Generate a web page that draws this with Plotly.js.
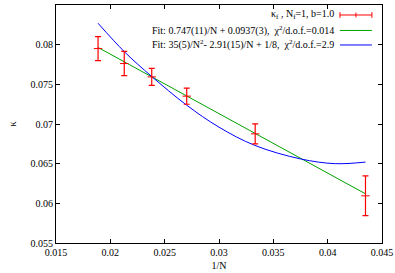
<!DOCTYPE html>
<html>
<head>
<meta charset="utf-8">
<script src="https://cdn.plot.ly/plotly-3.0.1.min.js"></script>
<style>html,body{margin:0;padding:0;background:#fff;}#chart{width:395px;height:273px;}</style>
</head>
<body>
<div id="chart"></div>
<script>
// Data points (1/N, kappa, error)
const invN = [0.01887, 0.02128, 0.02381, 0.02703, 0.03333, 0.04348];
const kappa = [0.07951, 0.07762, 0.07594, 0.07351, 0.06876, 0.06095];
const kappaErr = [0.00151, 0.00153, 0.00107, 0.00102, 0.00126, 0.00251];

// Linear fit line
const linX = [0.01887, 0.04348];
const linY = [0.07965, 0.06120];

// Quadratic fit curve
const quadX = [0.01887, 0.0213, 0.0238, 0.0270, 0.0300, 0.0333, 0.0375, 0.0407, 0.04348];
const quadY = [0.0827, 0.0791, 0.0760, 0.0724, 0.0696, 0.0673, 0.0656, 0.0650, 0.0652];

// Ticks
const xTicks = [0.015, 0.02, 0.025, 0.03, 0.035, 0.04, 0.045];
const xTickText = ['0.015', '0.02', '0.025', '0.03', '0.035', '0.04', '0.045'];
const yTicks = [0.055, 0.06, 0.065, 0.07, 0.075, 0.08, 0.085];
const yTickText = ['0.055', '0.06', '0.065', '0.07', '0.075', '0.08', '0.085'];

// Legend labels
const legendLabels = [
  'κ<sub>f</sub> , N<sub>f</sub>=1, b=1.0',
  'Fit: 0.747(11)/N + 0.0937(3),  χ<sup>2</sup>/d.o.f.=0.014',
  'Fit: 35(5)/N<sup>2</sup>- 2.91(15)/N + 1/8,  χ<sup>2</sup>/d.o.f.=2.9'
];
const colors = ['#ff0000', '#00a000', '#0000ff'];

const FONT = 'Liberation Serif';

const traces = [
  {
    x: linX, y: linY, mode: 'lines', type: 'scatter',
    line: {color: colors[1], width: 1}, hoverinfo: 'skip'
  },
  {
    x: quadX, y: quadY, mode: 'lines', type: 'scatter',
    line: {color: colors[2], width: 1, shape: 'spline', smoothing: 1}, hoverinfo: 'skip'
  },
  {
    x: invN, y: kappa, mode: 'markers', type: 'scatter',
    marker: {symbol: 'line-ew', size: 6, line: {color: colors[0], width: 1}, color: colors[0]},
    error_y: {type: 'data', array: kappaErr, visible: true, color: colors[0], thickness: 1.2, width: 3}
  }
];

const rowY = [0.958, 0.893, 0.832];
const annotations = legendLabels.map((t, i) => ({
  text: t, xref: 'paper', yref: 'paper', x: 0.859, y: rowY[i],
  xanchor: 'right', yanchor: 'middle', showarrow: false,
  font: {family: FONT, size: 10, color: '#000'}
}));

const sx0 = 0.871, sx1 = 0.969;
const shapes = [
  {type: 'line', xref: 'paper', yref: 'paper', x0: sx0, x1: sx1, y0: rowY[0], y1: rowY[0], line: {color: colors[0], width: 1}},
  {type: 'line', xref: 'paper', yref: 'paper', x0: sx0, x1: sx0, y0: rowY[0]-0.012, y1: rowY[0]+0.012, line: {color: colors[0], width: 1}},
  {type: 'line', xref: 'paper', yref: 'paper', x0: sx1, x1: sx1, y0: rowY[0]-0.012, y1: rowY[0]+0.012, line: {color: colors[0], width: 1}},
  {type: 'line', xref: 'paper', yref: 'paper', x0: (sx0+sx1)/2, x1: (sx0+sx1)/2, y0: rowY[0]-0.010, y1: rowY[0]+0.010, line: {color: colors[0], width: 1}},
  {type: 'line', xref: 'paper', yref: 'paper', x0: sx0, x1: sx1, y0: rowY[1], y1: rowY[1], line: {color: colors[1], width: 1}},
  {type: 'line', xref: 'paper', yref: 'paper', x0: sx0, x1: sx1, y0: rowY[2], y1: rowY[2], line: {color: colors[2], width: 1}}
];

const axisCommon = {
  showgrid: false, zeroline: false, showline: true, linecolor: '#000', linewidth: 1,
  mirror: 'ticks', ticks: 'inside', ticklen: 4, tickcolor: '#000', tickwidth: 1,
  tickfont: {family: FONT, size: 10, color: '#000'}, automargin: false
};

const layout = {
  width: 395, height: 273,
  margin: {l: 56, r: 13, t: 5, b: 30},
  paper_bgcolor: '#fff', plot_bgcolor: '#fff',
  showlegend: false,
  font: {family: FONT, size: 10, color: '#000'},
  xaxis: Object.assign({}, axisCommon, {
    range: [0.015, 0.045], tickvals: xTicks, ticktext: xTickText,
    title: {text: '1/N', font: {family: FONT, size: 10}, standoff: 4}
  }),
  yaxis: Object.assign({}, axisCommon, {
    range: [0.055, 0.085], tickvals: yTicks, ticktext: yTickText,
    title: {text: 'κ', font: {family: FONT, size: 10}, standoff: 12}
  }),
  annotations: annotations,
  shapes: shapes
};

Plotly.newPlot('chart', traces, layout, {staticPlot: true, displayModeBar: false});
</script>
</body>
</html>
